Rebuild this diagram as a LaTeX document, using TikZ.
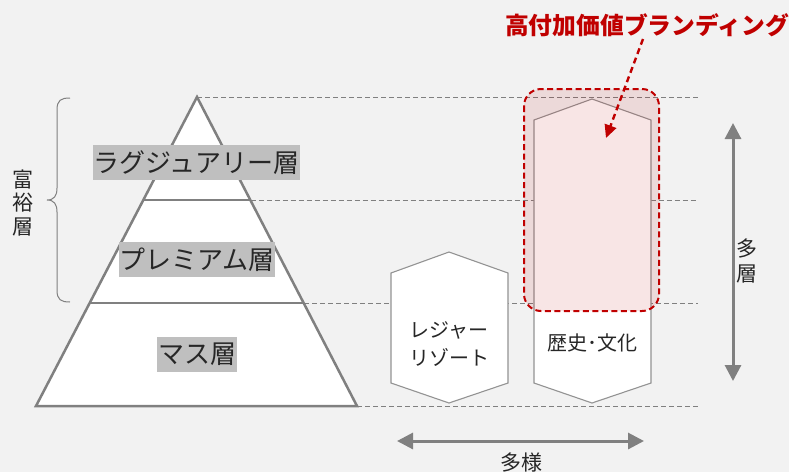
\documentclass[tikz,border=0pt]{standalone}
\usepackage{fontspec}
\setmainfont{Noto Sans CJK JP}
\usetikzlibrary{arrows.meta}
\definecolor{bg}{HTML}{F2F2F2}
\definecolor{edge}{HTML}{808080}
\definecolor{lblbox}{HTML}{BFBFBF}
\definecolor{brand}{HTML}{C00000}
\definecolor{ink}{HTML}{262626}
\begin{document}
\begin{tikzpicture}[x=1pt,y=-1pt,
 layer/.style={fill=lblbox, text=ink, font=\fontsize{26}{28}\selectfont, inner xsep=1pt, inner ysep=0pt, minimum height=35pt},
 guide/.style={draw=edge, dash pattern=on 5pt off 3pt, line width=0.8pt},
 hexa/.style={draw=edge!85, fill=white, line width=1.1pt, line join=miter},
 body/.style={text=ink, font=\fontsize{20}{28}\selectfont, align=center},
 vtext/.style={text=ink, font=\fontsize{21}{24}\selectfont, align=center},
 bigarrow/.style={draw=edge, line width=3pt, {Triangle[length=16pt,width=16pt]}-{Triangle[length=16pt,width=16pt]}},
 pyr/.style={draw=edge, line width=2.5pt},
]
\fill[bg] (0,0) rectangle (789,472);
\useasboundingbox (0,0) rectangle (789,472);

% guide lines
\draw[guide] (197,97) -- (698,97);
\draw[guide] (250.7,200) -- (698,200);
\draw[guide] (304.3,303) -- (698,303);
\draw[guide] (357,406) -- (698,406);

% pyramid
\filldraw[pyr, fill=white] (197,97) -- (357,406) -- (36,406) -- cycle;
\draw[pyr] (143.3,200) -- (250.7,200);
\draw[pyr] (89.7,303) -- (304.3,303);

\node[layer] (lux) at (196.5,162.5) {ラグジュアリー層};
\node[layer] (prem) at (197,259.5) {プレミアム層};
\node[layer] (mass) at (197,354.5) {マス層};

% brace
\draw[draw=edge, line width=1pt] (70,98) .. controls (61,98) and (57,100) .. (57,110) -- (57,188)
  .. controls (57,196) and (54,200) .. (47,200) .. controls (54,200) and (57,204) .. (57,212)
  -- (57,290) .. controls (57,300) and (61,302) .. (70,302);
\node[vtext] (rich) at (23,203) {富\\[-0.5pt]裕\\[-0.5pt]層};

% hexagons
\filldraw[hexa] (449,252) -- (508,273) -- (508,383) -- (449,403) -- (391,383) -- (391,273) -- cycle;
\node[body] (leisure) at (449,344) {レジャー\\リゾート};
\filldraw[hexa] (592,99) -- (651,120) -- (651,383) -- (592,403) -- (534,383) -- (534,120) -- cycle;
\node[body] (culture) at (592,343) {歴史･文化};

% highlight
\draw[brand, line width=2pt, dash pattern=on 6pt off 3.5pt, fill=brand, fill opacity=0.1, rounded corners=17pt]
  (524,89) rectangle (659,311);

% title and red arrow
\node[text=brand, font=\fontsize{23.8}{26}\bfseries] (ttl) at (647,25) {高付加価値ブランディング};
\coordinate (rs) at (643,39);
\coordinate (re) at (606,138);
\draw[brand, line width=2.4pt, dash pattern=on 6pt off 4pt, -{Triangle[length=13pt,width=12pt]}] (rs) -- (re);

% vertical arrow
\coordinate (vt) at (733,123);
\coordinate (vb) at (733,381);
\draw[bigarrow] (vt) -- (vb);
\node[vtext] (tall) at (747,261) {多\\[1pt]層};

% horizontal arrow
\coordinate (hl) at (397,441);
\coordinate (hr) at (644,441);
\draw[bigarrow] (hl) -- (hr);
\node[vtext] (wide) at (521,463) {多様};
\end{tikzpicture}
\end{document}
